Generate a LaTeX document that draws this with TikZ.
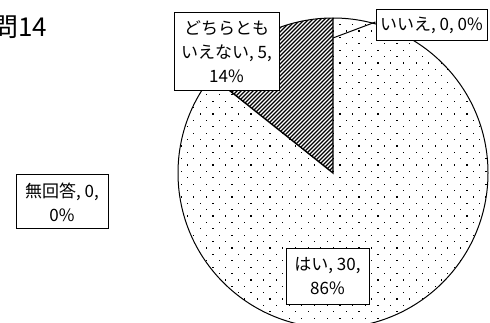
\documentclass[tikz,border=0pt]{standalone}
\usepackage{fontspec}
\setmainfont{Noto Sans CJK JP}
\begin{document}
\begin{tikzpicture}[x=1pt,y=-1pt,
  lbl/.style={draw,fill=white,line width=1pt,align=center,inner sep=0pt,
    font=\fontsize{17}{24}\selectfont},
  rim/.style={line width=1pt},
  radial/.style={line width=1.4pt},
  hatchline/.style={line width=1.3pt},
  leader/.style={line width=1pt}]
\useasboundingbox (0,0) rectangle (490,323);
\clip (0,0) rectangle (490,323);
\coordinate (C) at (333,173);
\coordinate (T) at (333,18);
\coordinate (P) at (211.8,76.4);
\coordinate (L) at (333,38);
% dotted slice (hai)
\begin{scope}
  \clip (C) -- (P) arc[start angle=141.43, end angle=450, radius=155pt] -- cycle;
  \foreach \r in {0,...,50} {
    \pgfmathsetmacro\yy{152.3+6.38*(\r-22)}
    \pgfmathsetmacro\oo{mod(\r,2)*6.35}
    \foreach \c in {0,...,25} {
      \fill ({174.2+\oo+12.7*\c},{\yy-0.6}) rectangle ++(1.2,1.2);
    }
  }
\end{scope}
% hatched slice (dochira tomo ienai)
\begin{scope}
  \clip (C) -- (T) arc[start angle=90, end angle=141.43, radius=155pt] -- cycle;
  \foreach \k in {220,224,...,520} {
    \draw[hatchline] ({\k-180},180) -- (\k,0);
  }
\end{scope}
\draw[rim] (C) circle[radius=155pt];
\draw[radial] (T) -- (C) -- (P);
% labels
\node[lbl, minimum width=111pt, minimum height=31pt] (iie) at (431.5,25) {いいえ, 0, 0\%};
\draw[leader] (L) -- ([yshift=3pt]iie.west);
\node[lbl, minimum width=105pt, minimum height=78pt] (dochira) at (226.5,52) {どちらとも\\いえない, 5,\\14\%};
\node[lbl, minimum width=83pt, minimum height=55pt] (hai) at (327.5,276.5) {はい, 30,\\86\%};
\node[lbl, minimum width=92pt, minimum height=54pt] (mukaito) at (62,202) {無回答, 0,\\0\%};
\node[anchor=base west, inner sep=0pt, font=\fontsize{26}{30}\selectfont] (title) at (-8,37) {問14};
\end{tikzpicture}
\end{document}
